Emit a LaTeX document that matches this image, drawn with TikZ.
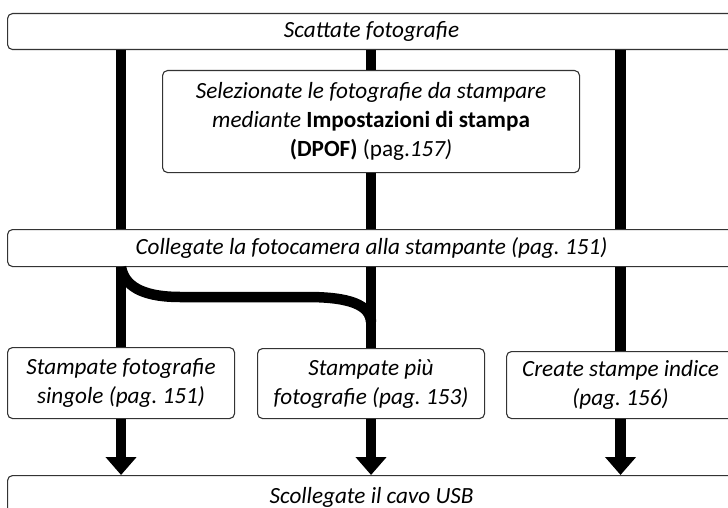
\documentclass[tikz,border=0pt]{standalone}
\usepackage{fontspec}
\setmainfont{Carlito}
\usetikzlibrary{arrows.meta,positioning}
\frenchspacing

\begin{document}
\begin{tikzpicture}[x=1pt, y=-1pt,
  stage/.style={draw=black!80, line width=1.1pt, rounded corners=5pt, fill=white, inner sep=0pt, align=center, anchor=north west, font=\fontsize{23.2}{29}\selectfont\itshape},
  bar/.style={line width=10.5pt},
  arr/.style={bar, -{Triangle[width=30pt, length=18pt]}}
]
  \useasboundingbox (0,0) rectangle (728,508);
  \clip (0,0) rectangle (728,508);
  \node[stage, minimum width=728pt, minimum height=36pt] (shoot) at (7,13) {Scattate fotografie};
  \node[stage, minimum width=417pt, minimum height=102pt] (dpof) at (162,70) {Selezionate le fotografie da stampare\\ mediante \textup{\textbf{Impostazioni di stampa}}\\ \textup{\textbf{(DPOF)} (pag.}157)};
  \node[stage, minimum width=728pt, minimum height=37pt] (conn) at (7,229) {Collegate la fotocamera alla stampante (pag. 151)};
  \node[stage, minimum width=227pt, minimum height=71pt] (single) at (7,347) {Stampate fotografie\\ singole (pag. 151)};
  \node[stage, minimum width=227pt, minimum height=70pt] (multi) at (257,348) {Stampate più\\ fotografie (pag. 153)};
  \node[stage, minimum width=228pt, minimum height=67pt] (index) at (506,351) {Create stampe indice\\ (pag. 156)};
  \node[stage, minimum width=728pt, minimum height=44pt] (unplug) at (7,475) {Scollegate il cavo USB};
  % flow lines
  \draw[bar] (shoot.south -| single) -- (conn.north -| single); \draw[bar] (conn.south -| single) -- (single.north);
  \draw[bar] (shoot.south -| dpof) -- (dpof.north); \draw[bar] (dpof.south) -- (conn.north -| dpof); \draw[bar] (conn.south -| multi) -- (multi.north);
  \draw[bar] (shoot.south -| index) -- (conn.north -| index); \draw[bar] (conn.south -| index) -- (index.north);
  \draw[bar] (conn.south -| single) .. controls (125,290) and (150,297) .. (180,297) -- (307,297) .. controls (350,297) and (370,305) .. (multi.north |- 0,322);
  \draw[arr] (single) -- (single.south |- unplug.north); \draw[arr] (multi) -- (multi.south |- unplug.north); \draw[arr] (index) -- (index.south |- unplug.north);
\end{tikzpicture}
\end{document}
